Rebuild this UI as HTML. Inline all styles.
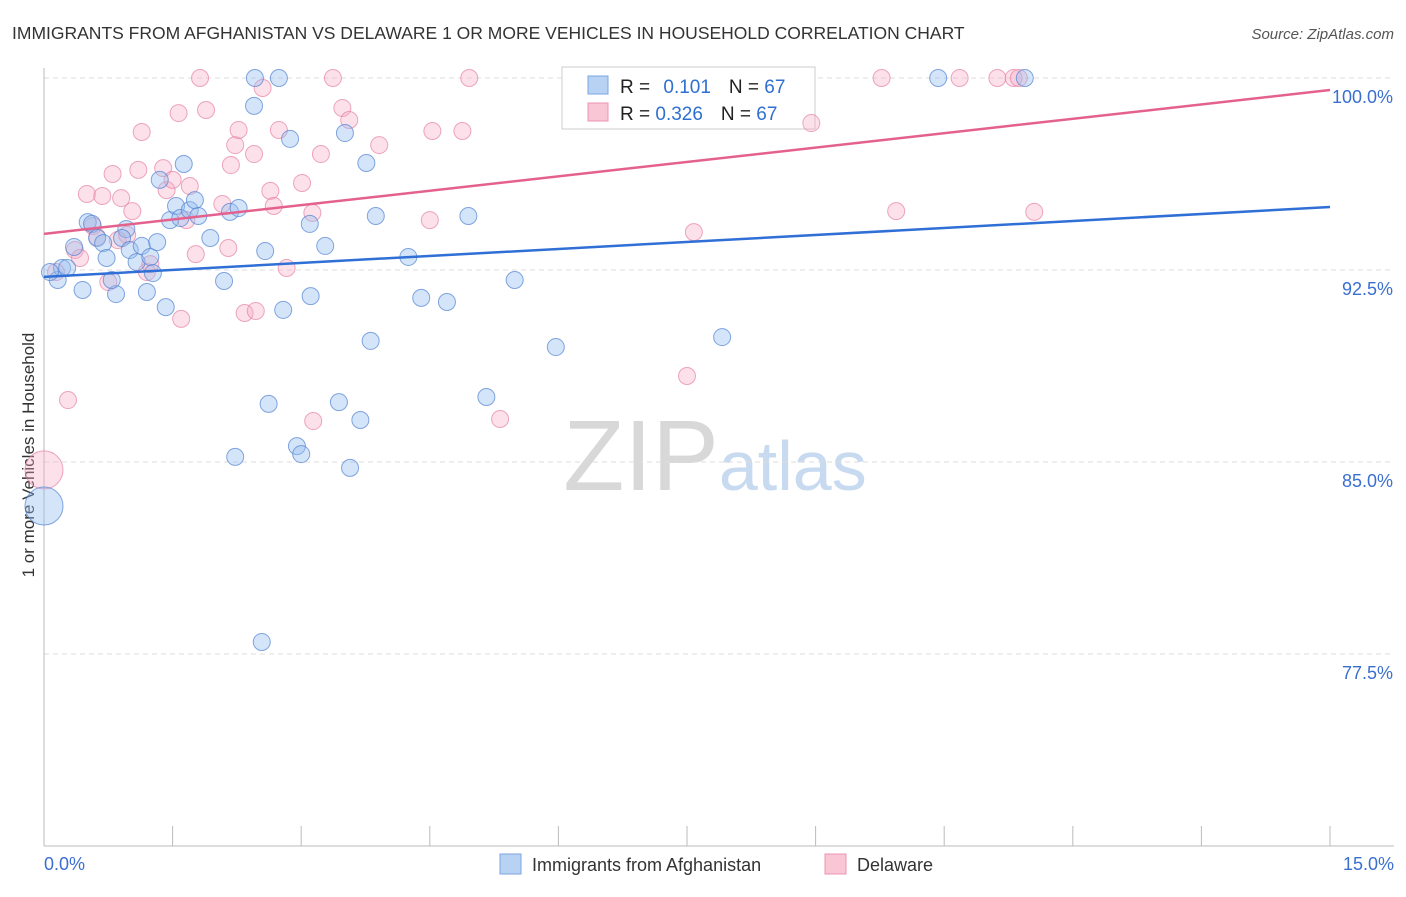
<!DOCTYPE html>
<html><head><meta charset="utf-8"><style>
body{margin:0;background:#fff;font-family:"Liberation Sans",sans-serif;}
svg text{font-family:"Liberation Sans",sans-serif;}
</style></head><body>
<svg id="c" width="1406" height="892" xmlns="http://www.w3.org/2000/svg">
<text x="12" y="39" font-size="17.5" fill="#333">IMMIGRANTS FROM AFGHANISTAN VS DELAWARE 1 OR MORE VEHICLES IN HOUSEHOLD CORRELATION CHART</text>
<text x="1394" y="39" font-size="15" fill="#555" text-anchor="end" font-style="italic">Source: ZipAtlas.com</text>
<text x="34" y="455" font-size="17" fill="#333" text-anchor="middle" transform="rotate(-90 34 455)">1 or more Vehicles in Household</text>
<text x="715" y="490" font-size="100" fill="#ddd" text-anchor="middle" font-family="Liberation Serif"><tspan fill="#d8d8d8">ZIP</tspan><tspan fill="#c8daf0" font-family="Liberation Sans" font-size="70">atlas</tspan></text>
<g id="grid"></g><g id="axes"></g>
<g>
<rect x="562" y="67" width="253" height="62" fill="#fff" stroke="#ccc"/>
<rect x="588" y="76" width="20" height="18" fill="#b8d2f3" stroke="#7aa6e0"/>
<rect x="588" y="103" width="20" height="18" fill="#f9c6d5" stroke="#ec94b0"/>
<text x="620" y="93" font-size="19" fill="#222">R = <tspan fill="#2f6fd1" dx="8">0.101</tspan><tspan dx="18" fill="#222">N = </tspan><tspan fill="#2f6fd1">67</tspan></text>
<text x="620" y="120" font-size="19" fill="#222">R = <tspan fill="#2f6fd1">0.326</tspan><tspan dx="18" fill="#222">N = </tspan><tspan fill="#2f6fd1">67</tspan></text>
</g>
<g id="pts"></g><g id="lines"></g>
<g>
<rect x="500" y="854" width="21" height="20" fill="#b8d2f3" stroke="#7aa6e0"/>
<text x="532" y="871" font-size="18" fill="#333">Immigrants from Afghanistan</text>
<rect x="825" y="854" width="21" height="20" fill="#f9c6d5" stroke="#ec94b0"/>
<text x="857" y="871" font-size="18" fill="#333">Delaware</text>
</g>
</svg>
<script>
const yTicks=[100,92.5,85,77.5];
const yTickLabels=["100.0%","92.5%","85.0%","77.5%"];
const xTickVals=[0,1.5,3,4.5,6,7.5,9,10.5,12,13.5,15];
const blueX=[0.16,0.21,0.27,0.45,0.51,0.56,0.62,0.69,0.73,0.84,0.79,0.96,0.91,1.00,1.08,1.14,1.20,1.24,1.32,1.35,1.42,1.47,1.54,1.59,1.63,1.70,1.76,1.80,1.94,2.10,2.17,2.23,2.27,2.45,2.46,2.54,2.58,2.62,2.74,2.79,2.87,2.95,3.00,3.10,3.11,3.28,3.44,3.51,3.57,3.69,3.76,3.81,3.87,4.25,4.40,4.70,4.95,5.16,5.49,5.97,7.91,10.43,11.44,0.0,0.07,0.35,1.27];
const blueY=[92.11,92.58,92.58,91.72,94.37,94.30,93.75,93.55,92.97,91.56,92.11,94.10,93.75,93.28,92.81,93.44,91.64,93.01,93.59,96.02,91.05,94.45,95.00,94.53,96.64,94.84,95.23,94.61,93.75,92.07,94.77,85.20,94.92,98.91,100,77.97,93.24,87.27,100,90.94,97.62,85.62,85.31,94.30,91.48,93.44,87.34,97.85,84.77,86.64,96.68,89.73,94.61,93.01,91.41,91.25,94.61,87.54,92.11,89.49,89.88,100,100,83.28,92.42,93.40,92.38];
const blueBig=[63];
const pinkX=[0,0.14,0.28,0.36,0.42,0.50,0.57,0.62,0.68,0.75,0.80,0.86,0.90,0.97,1.03,1.10,1.14,1.20,1.24,1.39,1.43,1.50,1.60,1.66,1.57,1.70,1.77,1.82,1.89,2.08,2.15,2.18,2.23,2.27,2.34,2.45,2.47,2.55,2.64,2.68,2.74,2.83,3.01,3.13,3.14,3.23,3.37,3.48,3.56,3.91,4.50,4.53,4.88,4.96,5.32,7.50,7.58,8.95,9.77,9.94,10.68,11.12,11.31,11.37,11.55];
const pinkY=[84.69,92.42,87.42,93.28,92.97,95.47,94.22,93.79,95.39,92.03,96.25,93.67,95.31,93.87,94.80,96.41,97.89,92.42,92.73,96.48,95.62,96.02,90.59,94.45,98.63,95.78,93.12,100,98.75,95.08,93.36,96.60,97.38,97.97,90.82,97.03,90.90,99.61,95.59,95.00,97.97,92.58,95.90,94.73,86.60,97.03,100,98.83,98.36,97.38,94.45,97.93,97.93,100,86.68,88.36,93.98,98.24,100,94.80,100,100,100,100,94.77];
const pinkBig=[0];
const blueLine=[92.23,94.96];
const pinkLine=[93.91,99.53];
const NS="http://www.w3.org/2000/svg";
const sx=v=>44+v/15*1286;
const sy=v=>78+(100-v)*25.6;
function mk(tag,attrs,parent){const e=document.createElementNS(NS,tag);for(const k in attrs)e.setAttribute(k,attrs[k]);document.getElementById(parent).appendChild(e);return e;}
yTicks.forEach((t,i)=>{
 const g=mk('line',{x1:44,x2:1394,y1:sy(t),y2:sy(t),stroke:'#ddd','stroke-dasharray':'5,4'},'grid');
 
 
 const tx=mk('text',{x:1393,y:sy(t)+25,'font-size':18,fill:'#3a6fd0','text-anchor':'end'},'grid');tx.textContent=yTickLabels[i];
 
 
});
const ax=mk('line',{x1:44,x2:44,y1:68,y2:846,stroke:'#bbb'},'axes');


const bx=mk('line',{x1:44,x2:1394,y1:846,y2:846,stroke:'#bbb'},'axes');


xTickVals.forEach(v=>{const t=mk('line',{x1:sx(v),x2:sx(v),y1:826,y2:846,stroke:'#bbb'},'axes');
 
 });
const xl=mk('text',{x:44,y:870,'font-size':18,fill:'#3a6fd0'},'axes');xl.textContent='0.0%';


const xr=mk('text',{x:1394,y:870,'font-size':18,fill:'#3a6fd0','text-anchor':'end'},'axes');xr.textContent='15.0%';


function pts(X,Y,big,fill,stroke,name){X.forEach((x,i)=>{const r=big.includes(i)?19:8.5;
 const c=mk('circle',{cx:sx(x),cy:sy(Y[i]),r:r,fill:fill,stroke:stroke,'stroke-width':1},'pts');
 
 });}
pts(pinkX,pinkY,pinkBig,'rgba(246,170,196,0.35)','rgba(230,130,165,0.7)','delaware-point');
pts(blueX,blueY,blueBig,'rgba(150,190,240,0.4)','rgba(80,130,210,0.7)','afghanistan-point');
const l1=mk('line',{x1:sx(0),y1:sy(blueLine[0]),x2:sx(15),y2:sy(blueLine[1]),stroke:'#2f6fd6','stroke-width':2.5},'lines');


const l2=mk('line',{x1:sx(0),y1:sy(pinkLine[0]),x2:sx(15),y2:sy(pinkLine[1]),stroke:'#e4618e','stroke-width':2.5},'lines');


</script>
</body></html>
